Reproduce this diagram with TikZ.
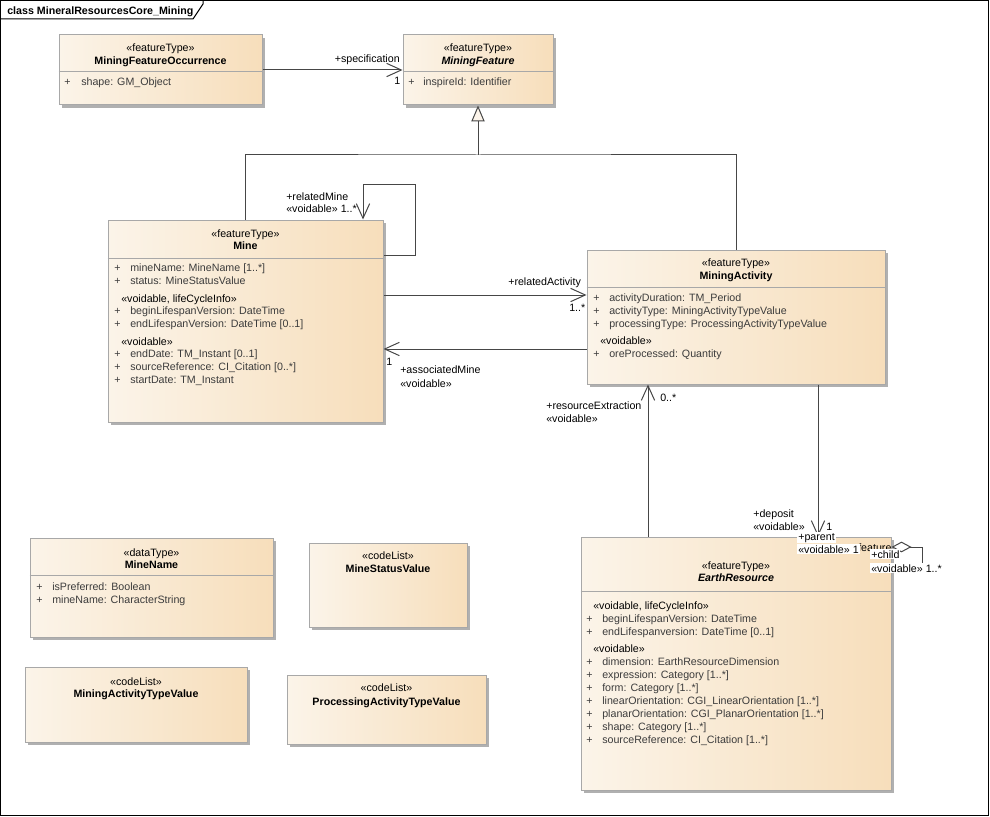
\documentclass[tikz,border=0pt]{standalone}
\usepackage{fontspec}
\setmainfont{Liberation Sans}
\usetikzlibrary{arrows.meta,fit,shadows}

\definecolor{boxleft}{RGB}{251,244,233}
\definecolor{boxright}{RGB}{247,222,187}
\definecolor{boxline}{RGB}{168,168,168}
\definecolor{boxshadow}{RGB}{176,176,176}
\definecolor{attrtext}{RGB}{60,60,60}
\definecolor{conline}{RGB}{70,70,70}
\definecolor{genfill}{RGB}{252,244,234}

\begin{document}
\begin{tikzpicture}[x=0.75pt,y=-0.75pt,font=\fontsize{8}{10}\selectfont,
    umlbox/.style={draw=boxline,line width=0.75pt,left color=boxleft,right color=boxright,
        inner sep=0pt,general shadow={fill=boxshadow,shadow xshift=2.5pt,shadow yshift=-2.5pt}},
    divider/.style={draw=boxline,line width=0.75pt},
    stereo/.style={anchor=base,inner sep=0pt},
    cname/.style={anchor=base,inner sep=0pt,font=\fontsize{8}{10}\selectfont\bfseries},
    aname/.style={cname,font=\fontsize{8}{10}\selectfont\bfseries\itshape},
    attr/.style={anchor=base west,inner sep=0pt,text=attrtext},
    role/.style={anchor=base west,inner sep=0pt},
    rolebg/.style={anchor=base west,inner sep=0.75pt,fill=white},
    conn/.style={draw=conline,line width=0.75pt},
    assoc/.style={conn,-{Straight Barb[length=11pt,width=10pt]}},
    gen/.style={conn,-{Triangle[length=12pt,width=10pt,fill=genfill]}},
    aggr/.style={conn,{Diamond[length=15pt,width=8pt,fill=white]}-}]
\useasboundingbox (0,0) rectangle (990,817);

% frame
\draw[line width=1pt] (0.5,0.5) rectangle (988.5,815.5);
\draw[line width=0.75pt] (0.5,19) -- (193,19) -- (203,4) -- (203,0.5);
\node[anchor=base west,inner sep=0pt,font=\fontsize{8}{10}\selectfont\bfseries] (title) at (7,15) {class MineralResourcesCore\_Mining};

% MiningFeatureOccurrence
\node[umlbox,fit={(59,35) (262,105)}] (mfo) {};
\draw[divider] (mfo.west |- 0,72) -- (mfo.east |- 0,72);
\node[stereo] (mfo-s) at (160.5,52) {«featureType»};
\node[cname] (mfo-n) at (160.5,65) {MiningFeatureOccurrence};
\node[attr] (mfo-p1) at (64,86) {+};
\node[attr] (mfo-a1) at (81,86) {shape: GM\_Object};

% MiningFeature
\node[umlbox,fit={(403,35) (553,105)}] (mf) {};
\draw[divider] (mf.west |- 0,72) -- (mf.east |- 0,72);
\node[stereo] (mf-s) at (478,52) {«featureType»};
\node[aname] (mf-n) at (478,65) {MiningFeature};
\node[attr] (mf-p1) at (408,86) {+};
\node[attr] (mf-a1) at (423,86) {inspireId: Identifier};

% Mine
\node[umlbox,fit={(108,220) (383,422)}] (mine) {};
\draw[divider] (mine.west |- 0,258) -- (mine.east |- 0,258);
\node[stereo] (mine-s) at (245.5,237) {«featureType»};
\node[cname] (mine-n) at (245.5,249) {Mine};
\foreach \yy/\txt [count=\i] in {271/{mineName: MineName [1..*]},284/{status: MineStatusValue},
    314/{beginLifespanVersion: DateTime},327/{endLifespanVersion: DateTime [0..1]},
    357/{endDate: TM\_Instant [0..1]},370/{sourceReference: CI\_Citation [0..*]},383/{startDate: TM\_Instant}}
  {\node[attr] (mine-p\i) at (114,\yy) {+};
   \node[attr] (mine-a\i) at (130,\yy) {\txt};}
\node[role] (mine-g1) at (121,302) {«voidable, lifeCycleInfo»};
\node[role] (mine-g2) at (121,345) {«voidable»};

% MiningActivity
\node[umlbox,fit={(587,250) (885,384)}] (act) {};
\draw[divider] (act.west |- 0,287) -- (act.east |- 0,287);
\node[stereo] (act-s) at (736,266) {«featureType»};
\node[cname] (act-n) at (736,279) {MiningActivity};
\foreach \yy/\txt [count=\i] in {301/{activityDuration: TM\_Period},314/{activityType: MiningActivityTypeValue},
    327/{processingType: ProcessingActivityTypeValue},357/{oreProcessed: Quantity}}
  {\node[attr] (act-p\i) at (593,\yy) {+};
   \node[attr] (act-a\i) at (609,\yy) {\txt};}
\node[role] (act-g1) at (600,344) {«voidable»};

% EarthResource
\node[umlbox,fit={(581,537) (891,790)}] (er) {};
\draw[divider] (er.west |- 0,591) -- (er.east |- 0,591);
\node[stereo] (er-s) at (736,569) {«featureType»};
\node[aname] (er-n) at (736,581) {EarthResource};
\foreach \yy/\txt [count=\i] in {622/{beginLifespanVersion: DateTime},635/{endLifespanversion: DateTime [0..1]},
    665/{dimension: EarthResourceDimension},678/{expression: Category [1..*]},691/{form: Category [1..*]},
    704/{linearOrientation: CGI\_LinearOrientation [1..*]},717/{planarOrientation: CGI\_PlanarOrientation [1..*]},
    730/{shape: Category [1..*]},743/{sourceReference: CI\_Citation [1..*]}}
  {\node[attr] (er-p\i) at (586,\yy) {+};
   \node[attr] (er-a\i) at (602,\yy) {\txt};}
\node[role] (er-g1) at (593,609) {«voidable, lifeCycleInfo»};
\node[role] (er-g2) at (593,652) {«voidable»};

% MineName
\node[umlbox,fit={(30,538) (273,637)}] (mname) {};
\draw[divider] (mname.west |- 0,575) -- (mname.east |- 0,575);
\node[stereo] (mname-s) at (151.5,556) {«dataType»};
\node[cname] (mname-n) at (151.5,568) {MineName};
\node[attr] (mname-p1) at (36,590) {+};
\node[attr] (mname-a1) at (52,590) {isPreferred: Boolean};
\node[attr] (mname-p2) at (36,603) {+};
\node[attr] (mname-a2) at (52,603) {mineName: CharacterString};

% code lists
\node[umlbox,fit={(309,543) (467,627)}] (mstat) {};
\node[stereo] (mstat-s) at (388,559) {«codeList»};
\node[cname] (mstat-n) at (388,572) {MineStatusValue};
\node[umlbox,fit={(25,667) (247,742)}] (atype) {};
\node[stereo] (atype-s) at (136,685) {«codeList»};
\node[cname] (atype-n) at (136,697) {MiningActivityTypeValue};
\node[umlbox,fit={(287,675) (486,744)}] (ptype) {};
\node[stereo] (ptype-s) at (386.5,691) {«codeList»};
\node[cname] (ptype-n) at (386.5,705) {ProcessingActivityTypeValue};

% connectors
\coordinate (genjoin) at (478,155);
\draw[conn] (mine.north) |- (genjoin) -| (act.north);
\draw[gen] (genjoin) -- (mf.south);
\draw[assoc] (mfo.east |- 0,70) -- (mf.west |- 0,70);
\draw[assoc] (mine.east |- 0,255) -| (415,184) -| (mine.north -| 363,0);
\draw[assoc] (mine.east |- 0,295) -- (act.west |- 0,295);
\draw[assoc] (act.west |- 0,349) -- (mine.east |- 0,349);
\draw[assoc] (er.north -| 648,0) -- (act.south -| 648,0);
\draw[assoc] (act.south -| 818,0) -- (er.north -| 818,0);
\draw[aggr] (er.east |- 0,547) -- (922,547) -- (922,566) -- (er.east |- 0,566);

% role labels
\node[role,anchor=base east] (spec-r) at (400,63) {+specification};
\node[role] (spec-m) at (394,85) {1};
\node[role] (rmine-r) at (286,200) {+relatedMine};
\node[role] (rmine-m) at (286,213) {«voidable» 1..*};
\node[role] (ract-r) at (508,285) {+relatedActivity};
\node[role] (ract-m) at (569,311) {1..*};
\node[role] (amine-m) at (386,365) {1};
\node[role] (amine-r) at (400,373) {+associatedMine};
\node[role] (amine-s) at (400,387) {«voidable»};
\node[role] (rext-r) at (546,409) {+resourceExtraction};
\node[role] (rext-s) at (546,422) {«voidable»};
\node[role] (rext-m) at (660,401) {0..*};
\node[role] (dep-r) at (753,517) {+deposit};
\node[role] (dep-s) at (753,530) {«voidable»};
\node[role] (dep-m) at (826,530) {1};
\node[role] (erfrag) at (858,551) {feature};
\node[rolebg] (par-r) at (797,540) {+parent};
\node[rolebg] (par-m) at (797,553) {«voidable» 1};
\node[rolebg] (chi-r) at (870,558) {+child};
\node[rolebg] (chi-m) at (870,572) {«voidable» 1..*};

\end{tikzpicture}
\end{document}
